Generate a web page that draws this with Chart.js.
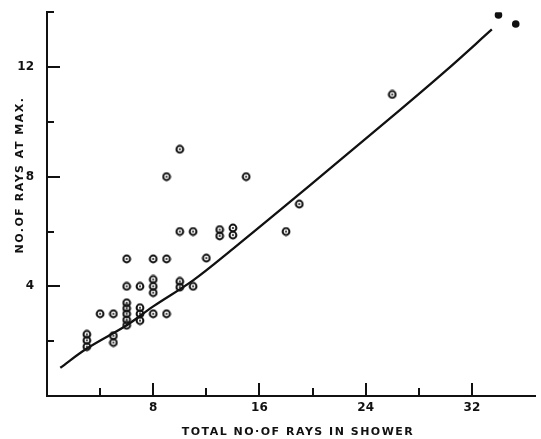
<!DOCTYPE html>
<html>
<head>
<meta charset="utf-8">
<script src="https://cdn.jsdelivr.net/npm/chart.js@4.4.1/dist/chart.umd.min.js"></script>
<style>
html, body { margin: 0; padding: 0; background: #fff; }
#wrap { width: 541px; height: 439px; }
</style>
</head>
<body>
<div id="wrap"><canvas id="scatterChart"></canvas></div>
<script>
// measured showers (open circles)
var showerRays = [3,3,3, 4, 5,5,5, 6,6,6,6,6,6,6, 7,7,7,7, 8,8,8,8,8, 9,9,9, 10,10,10,10, 11,11, 12, 13,13, 14,14, 15, 18, 19, 26];
var raysAtMax  = [2.25,2.03,1.8, 3, 3,2.2,1.95, 5,4,3.4,3.2,3,2.78,2.58, 4,3.22,3,2.75, 5,4.25,4,3.77,3, 5,3,8, 9,6,4.18,3.97, 6,4, 5.03, 6.07,5.84, 6.13,5.87, 8, 6, 7, 11];

// solid dots top right
var filledRays = [34, 35.3];
var filledMax  = [13.9, 13.57];

// drawn curve
var curveX = [1, 3, 6, 8, 11, 14, 17.5, 22, 26.5, 30, 33.5];
var curveY = [1.03, 1.73, 2.58, 3.27, 4.22, 5.37, 6.76, 8.58, 10.4, 11.85, 13.37];

var xTitle = "TOTAL NO\u00b7OF RAYS IN SHOWER";
var yTitle = "NO.OF RAYS AT MAX.";

function toPoints(xs, ys) {
	return xs.map(function (x, i) { return { x: x, y: ys[i] }; });
}

// ring with a dot in the middle
function ringMark() {
	var c = document.createElement('canvas');
	c.width = 10; c.height = 10;
	var g = c.getContext('2d');
	g.strokeStyle = '#111';
	g.lineWidth = 2;
	g.beginPath(); g.arc(5, 5, 3.4, 0, Math.PI * 2); g.stroke();
	g.fillStyle = '#111';
	g.beginPath(); g.arc(5, 5, 1, 0, Math.PI * 2); g.fill();
	return c;
}

var font = "'DejaVu Sans', sans-serif";

var innerTicks = {
	id: 'innerTicks',
	afterDraw: function (chart) {
		var ctx = chart.ctx, xs = chart.scales.x, ys = chart.scales.y, a = chart.chartArea;
		ctx.save();
		ctx.strokeStyle = '#111';
		ctx.lineWidth = 2;
		xs.ticks.forEach(function (t) {
			if (t.value <= 0 || t.value % 4 !== 0) return;
			var px = Math.round(xs.getPixelForValue(t.value));
			var len = t.value % 8 === 0 ? 13 : 8;
			ctx.beginPath(); ctx.moveTo(px, a.bottom); ctx.lineTo(px, a.bottom - len); ctx.stroke();
		});
		ys.ticks.forEach(function (t) {
			if (t.value <= 0 || t.value % 2 !== 0) return;
			var py = Math.round(ys.getPixelForValue(t.value));
			var len = t.value % 4 === 0 ? 13 : 7;
			ctx.beginPath(); ctx.moveTo(a.left, py); ctx.lineTo(a.left + len, py); ctx.stroke();
		});
		// axis titles
		ctx.fillStyle = '#111';
		ctx.font = "bold 11px " + font;
		ctx.letterSpacing = '1.5px';
		ctx.textAlign = 'center';
		ctx.textBaseline = 'middle';
		ctx.fillText(xTitle, 298, 432);
		ctx.translate(20, 175);
		ctx.rotate(-Math.PI / 2);
		ctx.fillText(yTitle, 0, 0);
		ctx.restore();
	}
};

var ctxS = document.getElementById("scatterChart").getContext('2d');
var myChart = new Chart(ctxS, {
	type: 'scatter',
	data: {
		datasets: [{
			type: 'line',
			label: "curve",
			data: toPoints(curveX, curveY),
			borderColor: '#111',
			borderWidth: 2.3,
			pointRadius: 0,
			fill: false,
			tension: 0.35
		},
		{
			label: "showers",
			data: toPoints(showerRays, raysAtMax),
			pointStyle: ringMark(),
			pointRadius: 5
		},
		{
			label: "solid",
			data: toPoints(filledRays, filledMax),
			pointStyle: 'circle',
			pointRadius: 3.8,
			backgroundColor: '#111',
			borderColor: '#111',
			borderWidth: 0
		}]
	},
	options: {
		responsive: true,
		maintainAspectRatio: false,
		animation: false,
		layout: { padding: { top: 11, right: 0 } },
		plugins: { legend: { display: false }, tooltip: { enabled: false } },
		scales: {
			x: {
				type: 'linear',
				min: 0,
				max: 36.75,
				afterFit: function (s) { s.height = 43; },
				grid: { display: false },
				border: { display: true, color: '#111', width: 2 },
				ticks: {
					stepSize: 4,
					autoSkip: false,
					maxRotation: 0,
					padding: -3,
					color: '#111',
					font: { family: font, size: 12, weight: 'bold' },
					callback: function (v) { return (v > 0 && v % 8 === 0) ? v : ''; }
				}
			},
			y: {
				type: 'linear',
				min: 0,
				max: 14,
				afterFit: function (s) { s.width = 47; },
				grid: { display: false },
				border: { display: true, color: '#111', width: 2 },
				ticks: {
					stepSize: 2,
					autoSkip: false,
					padding: 5,
					color: '#111',
					font: { family: font, size: 12, weight: 'bold' },
					callback: function (v) { return (v > 0 && v % 4 === 0) ? v : ''; }
				}
			}
		}
	},
	plugins: [innerTicks]
});
</script>
</body>
</html>
